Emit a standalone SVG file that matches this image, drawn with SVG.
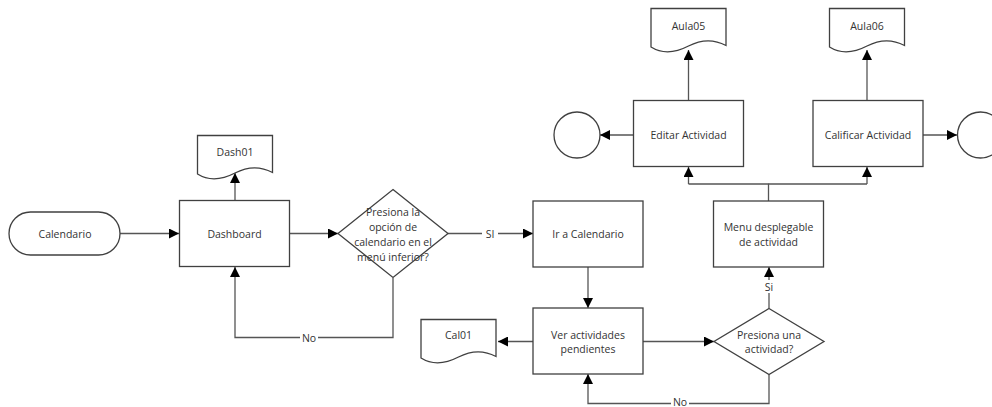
<svg xmlns="http://www.w3.org/2000/svg" width="992" height="407" viewBox="0 0 992 407">
  <defs>
    <marker id="arrow" markerUnits="userSpaceOnUse" markerWidth="10" markerHeight="10" viewBox="0 0 10 10" refX="10" refY="5" orient="auto">
      <path d="M0,0 L10,5 L0,10 Z" fill="#000"/>
    </marker>
    <!-- document shape, 75 wide, wavy bottom -->
    <path id="doc" d="M0,0 H75 V37 C62,30 50,31 37.5,37.5 C25,44 12,46 0,38.5 Z"/>
  </defs>
  <style>
    .shape { fill: #fff; stroke: #404040; stroke-width: 1.3; }
    .edge { fill: none; stroke: #555; stroke-width: 1.3; }
    .arr { marker-end: url(#arrow); }
    text { font-family: "Open Sans", "Noto Sans", "DejaVu Sans", sans-serif; font-size: 10.5px; fill: #333; text-anchor: middle; }
    .lblbg { fill: #fff; }
  </style>
  <rect width="992" height="407" fill="#fff"/>

  <!-- connectors -->
  <g id="connectors">
    <path class="edge arr" d="M120,233.5 H179"/>
    <path class="edge arr" d="M289,233.5 H338"/>
    <path class="edge arr" d="M235,200 V173"/>
    <path class="edge arr" d="M393,278 V337.5 H235 V267"/>
    <path class="edge arr" d="M448,233.5 H533"/>
    <path class="edge arr" d="M588,267 V308"/>
    <path class="edge arr" d="M533,341.5 H498"/>
    <path class="edge arr" d="M643,341.5 H714"/>
    <path class="edge arr" d="M769,374.5 V403.5 H588 V374"/>
    <path class="edge arr" d="M769,308.5 V267"/>
    <path class="edge" d="M768.5,201 V184 H688.5"/>
    <path class="edge arr" d="M688.5,184 V167"/>
    <path class="edge" d="M768.5,184 H867"/>
    <path class="edge arr" d="M867,184 V167"/>
    <path class="edge arr" d="M688.5,100 V50"/>
    <path class="edge arr" d="M867,100 V50"/>
    <path class="edge arr" d="M633,135 H600"/>
    <path class="edge arr" d="M923,135 H957"/>
    <!-- connector labels -->
    <rect class="lblbg" x="300" y="331" width="18" height="13"/>
    <text x="309" y="341.5">No</text>
    <rect class="lblbg" x="482" y="227" width="16" height="13"/>
    <text x="490" y="237.5">SI</text>
    <rect class="lblbg" x="762" y="280" width="14" height="13"/>
    <text x="769" y="291">Si</text>
    <rect class="lblbg" x="671" y="397" width="18" height="10"/>
    <text x="680" y="405.5">No</text>
  </g>

  <g id="calendario">
    <rect class="shape" x="9" y="212" width="111" height="43" rx="21.5" ry="21.5"/>
    <text x="65" y="237.5">Calendario</text>
  </g>

  <g id="dashboard">
    <rect class="shape" x="179.5" y="200.5" width="110" height="66"/>
    <text x="234.5" y="237.5">Dashboard</text>
  </g>

  <g id="dash01">
    <use href="#doc" class="shape" x="197.5" y="135.5"/>
    <text x="235" y="155.5">Dash01</text>
  </g>

  <g id="decision-calendario">
    <path class="shape" d="M393,189.5 L448,233.5 L393,277.5 L338,233.5 Z"/>
    <text x="393" y="216">Presiona la</text>
    <text x="393" y="231">opción de</text>
    <text x="393" y="246">calendario en el</text>
    <text x="393" y="261">menú inferior?</text>
  </g>

  <g id="ir-calendario">
    <rect class="shape" x="533" y="201" width="110" height="66"/>
    <text x="588" y="238">Ir a Calendario</text>
  </g>

  <g id="ver-actividades">
    <rect class="shape" x="533" y="308" width="110" height="66"/>
    <text x="588" y="338.5">Ver actividades</text>
    <text x="588" y="353">pendientes</text>
  </g>

  <g id="cal01">
    <use href="#doc" class="shape" x="421" y="319.5"/>
    <text x="458.5" y="339">Cal01</text>
  </g>

  <g id="decision-actividad">
    <path class="shape" d="M769,308.5 L824,341.5 L769,374.5 L714,341.5 Z"/>
    <text x="769" y="338.5">Presiona una</text>
    <text x="769" y="353">actividad?</text>
  </g>

  <g id="menu-desplegable">
    <rect class="shape" x="713.5" y="201" width="110" height="66"/>
    <text x="768.5" y="230.5">Menu desplegable</text>
    <text x="768.5" y="245.5">de actividad</text>
  </g>

  <g id="editar-actividad">
    <rect class="shape" x="633.5" y="100.5" width="110" height="66"/>
    <text x="688.5" y="139">Editar Actividad</text>
  </g>

  <g id="calificar-actividad">
    <rect class="shape" x="813" y="100.5" width="110" height="66"/>
    <text x="868" y="139">Calificar Actividad</text>
  </g>

  <g id="aula05">
    <use href="#doc" class="shape" x="651" y="8.5"/>
    <text x="688.5" y="30">Aula05</text>
  </g>

  <g id="aula06">
    <use href="#doc" class="shape" x="829.5" y="8.5"/>
    <text x="867" y="30">Aula06</text>
  </g>

  <g id="fin-editar">
    <circle class="shape" cx="577" cy="135" r="23"/>
  </g>

  <g id="fin-calificar">
    <circle class="shape" cx="980.5" cy="135" r="23"/>
  </g>
</svg>
